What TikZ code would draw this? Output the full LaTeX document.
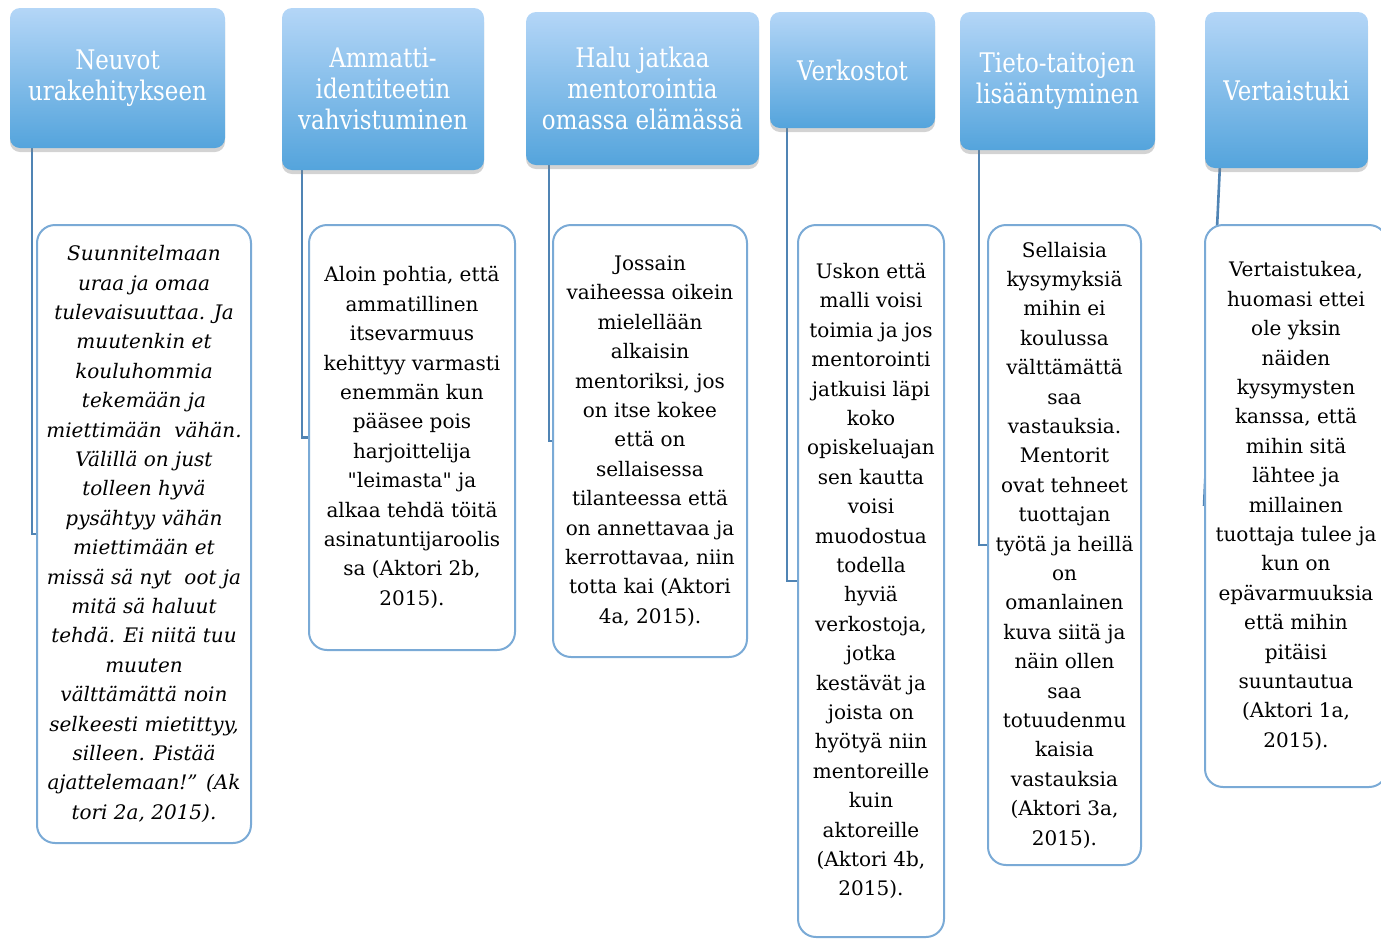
\documentclass[tikz,border=0pt]{standalone}
\usepackage{fontspec}
\setmainfont{DejaVu Serif}
\newfontfamily\headfont{DejaVu Serif}[FakeStretch=0.85]
\usetikzlibrary{calc,shadows,backgrounds}

\definecolor{headtop}{RGB}{180,214,247}
\definecolor{headbot}{RGB}{84,164,220}
\definecolor{boxline}{RGB}{122,170,214}
\definecolor{linkline}{RGB}{80,132,180}

\tikzset{
    head/.style={rounded corners=10pt, top color=headtop, bottom color=headbot,
        draw=none, text=white, align=center,
        font=\headfont\fontsize{27}{31}\selectfont,
        drop shadow={opacity=0.35, shadow xshift=0pt, shadow yshift=-4pt}},
    quote/.style={draw=boxline, line width=2pt, rounded corners=18pt, fill=white,
        align=center, font=\fontsize{20}{29.4}\selectfont},
    link/.style={draw=linkline, line width=2.6pt}
}

\begin{document}
\begin{tikzpicture}[x=1pt, y=-1pt]
    \useasboundingbox (0,0) rectangle (1381,938);

    % Headers
    \node[head, minimum width=215pt, minimum height=140pt] (h1) at (117.5,78) {Neuvot\\urakehitykseen};
    \node[head, minimum width=202pt, minimum height=162pt] (h2) at (383,89) {Ammatti-\\identiteetin\\vahvistuminen};
    \node[head, minimum width=233pt, minimum height=153pt] (h3) at (642.5,88.5) {Halu jatkaa\\mentorointia\\omassa elämässä};
    \node[head, minimum width=165pt, minimum height=116pt] (h4) at (852.5,70) {Verkostot};
    \node[head, minimum width=195pt, minimum height=138pt] (h5) at (1057.5,81) {Tieto-taitojen\\lisääntyminen};
    \node[head, minimum width=163pt, minimum height=156pt] (h6) at (1286.5,90) {Vertaistuki};

    % Quotes
    \node[quote, minimum width=214pt, minimum height=618pt, font=\itshape\fontsize{20}{29.4}\selectfont] (b1) at (144,534)
        {Suunnitelmaan\\uraa ja omaa\\tulevaisuuttaa. Ja\\muutenkin et\\kouluhommia\\tekemään ja\\miettimään~ vähän.\\Välillä on just\\tolleen hyvä\\pysähtyy vähän\\miettimään et\\missä sä nyt~ oot ja\\mitä sä haluut\\tehdä. Ei niitä tuu\\muuten\\välttämättä noin\\selkeesti mietittyy,\\silleen. Pistää\\ajattelemaan!” (Ak\\tori 2a, 2015).};
    \node[quote, minimum width=206pt, minimum height=425pt] (b2) at (412,437.5)
        {Aloin pohtia, että\\ammatillinen\\itsevarmuus\\kehittyy varmasti\\enemmän kun\\pääsee pois\\harjoittelija\\\textquotedbl leimasta\textquotedbl{} ja\\alkaa tehdä töitä\\asinatuntijaroolis\\sa (Aktori 2b,\\2015).};
    \node[quote, minimum width=194pt, minimum height=432pt] (b3) at (650,441)
        {Jossain\\vaiheessa oikein\\mielellään\\alkaisin\\mentoriksi, jos\\on itse kokee\\että on\\sellaisessa\\tilanteessa että\\on annettavaa ja\\kerrottavaa, niin\\totta kai (Aktori\\4a, 2015).};
    \node[quote, minimum width=146pt, minimum height=712pt] (b4) at (871,581)
        {Uskon että\\malli voisi\\toimia ja jos\\mentorointi\\jatkuisi läpi\\koko\\opiskeluajan\\sen kautta\\voisi\\muodostua\\todella\\hyviä\\verkostoja,\\jotka\\kestävät ja\\joista on\\hyötyä niin\\mentoreille\\kuin\\aktoreille\\(Aktori 4b,\\2015).};
    \node[quote, minimum width=153pt, minimum height=640pt] (b5) at (1064.5,545)
        {Sellaisia\\kysymyksiä\\mihin ei\\koulussa\\välttämättä\\saa\\vastauksia.\\Mentorit\\ovat tehneet\\tuottajan\\työtä ja heillä\\on\\omanlainen\\kuva siitä ja\\näin ollen\\saa\\totuudenmu\\kaisia\\vastauksia\\(Aktori 3a,\\2015).};
    \node[quote, minimum width=182pt, minimum height=562pt] (b6) at (1296,506)
        {Vertaistukea,\\huomasi ettei\\ole yksin\\näiden\\kysymysten\\kanssa, että\\mihin sitä\\lähtee ja\\millainen\\tuottaja tulee ja\\kun on\\epävarmuuksia\\että mihin\\pitäisi\\suuntautua\\(Aktori 1a,\\2015).};

    % Links
    \coordinate (c1) at ($(h1.south west)+(22,0)$);
    \coordinate (c2) at ($(h2.south west)+(20,0)$);
    \coordinate (c3) at ($(h3.south west)+(23,0)$);
    \coordinate (c4) at ($(h4.south west)+(17,0)$);
    \coordinate (c5) at ($(h5.south west)+(19,0)$);
    \coordinate (c6) at ($(h6.south west)+(15,0)$);
    \begin{scope}[on background layer]
        \draw[link] (c1) |- (b1.west);
        \draw[link] (c2) |- (b2.west);
        \draw[link] (c3) |- (b3.west);
        \draw[link] (c4) |- (b4.west);
        \draw[link] (c5) |- (b5.west);
        \draw[link] (c6) -- (b6.west);
    \end{scope}
\end{tikzpicture}
\end{document}
